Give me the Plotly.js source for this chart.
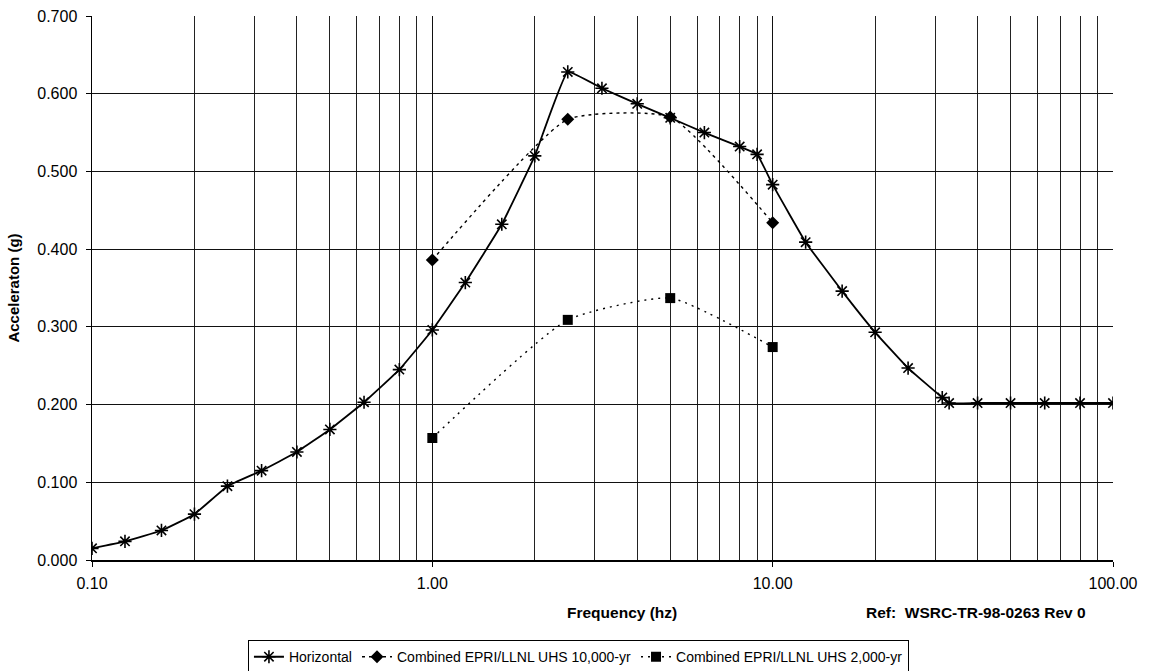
<!DOCTYPE html>
<html>
<head>
<meta charset="utf-8">
<script src="https://cdn.plot.ly/plotly-3.0.1.min.js"></script>
<style>html,body{margin:0;padding:0;background:#fff;}#chart{width:1150px;height:671px;}</style>
</head>
<body>
<div id="chart"></div>
<script>
// Horizontal spectrum
const hFreq = [0.1,0.125,0.16,0.2,0.25,0.315,0.4,0.5,0.63,0.8,1.0,1.25,1.6,2.0,2.5,3.15,4.0,5.0,6.3,8.0,9.0,10.0,12.5,16,20,25,31.5,33,40,50,63,80,100];
const hAcc  = [0.015,0.024,0.038,0.059,0.095,0.115,0.139,0.168,0.203,0.245,0.296,0.357,0.432,0.520,0.628,0.607,0.587,0.569,0.550,0.532,0.522,0.483,0.409,0.346,0.293,0.247,0.209,0.202,0.202,0.202,0.202,0.202,0.202];
// Combined EPRI/LLNL UHS
const uhsFreq = [1.0,2.5,5.0,10.0];
const uhs10k  = [0.386,0.567,0.570,0.434];
const uhs2k   = [0.157,0.309,0.337,0.274];

const seriesNames = ["Horizontal","Combined EPRI/LLNL UHS 10,000-yr","Combined EPRI/LLNL UHS 2,000-yr"];
const majorTicks = [0.1,1,10,100];
const majorTickText = ["0.10","1.00","10.00","100.00"];
const minorTicks = [0.2,0.3,0.4,0.5,0.6,0.7,0.8,0.9,2,3,4,5,6,7,8,9,20,30,40,50,60,70,80,90];
const yTicks = [0,0.1,0.2,0.3,0.4,0.5,0.6,0.7];
const yTickText = ["0.000","0.100","0.200","0.300","0.400","0.500","0.600","0.700"];

const traces = [
  {x:hFreq, y:hAcc, name:seriesNames[0], type:'scatter', mode:'lines+markers',
   line:{color:'#000', width:1.8, shape:'spline', smoothing:0.3},
   marker:{symbol:'asterisk-open', size:11, color:'#000', line:{color:'#000', width:1.6}}},
  {x:uhsFreq, y:uhs10k, name:seriesNames[1], type:'scatter', mode:'lines+markers',
   line:{color:'#000', width:1.4, dash:'3px,4px', shape:'spline', smoothing:0.5},
   marker:{symbol:'diamond', size:10, color:'#000'}},
  {x:uhsFreq, y:uhs2k, name:seriesNames[2], type:'scatter', mode:'lines+markers',
   line:{color:'#000', width:1.4, dash:'2px,5px', shape:'spline', smoothing:0.5},
   marker:{symbol:'square', size:10, color:'#000'}}
];

const layout = {
  width:1150, height:671,
  margin:{l:92, r:37, t:16, b:111},
  paper_bgcolor:'#fff', plot_bgcolor:'#fff',
  font:{family:'Arial, "Liberation Sans", sans-serif', size:16, color:'#000'},
  showlegend:true,
  legend:{orientation:'h', xref:'container', yref:'container', x:0.503, xanchor:'center', y:0.046, yanchor:'top',
          bordercolor:'#000', borderwidth:1, bgcolor:'#fff',
          font:{family:'"Liberation Sans Narrow", "Arial Narrow", Arial, sans-serif', size:14, color:'#000'},
          itemwidth:30, tracegroupgap:0},
  xaxis:{type:'log', range:[-1,2], tickmode:'array', tickvals:majorTicks, ticktext:majorTickText,
         showgrid:true, gridcolor:'#111', gridwidth:1,
         showline:true, linecolor:'#000', linewidth:1.5, mirror:false,
         ticks:'outside', ticklen:5, tickcolor:'#000', ticklabelstandoff:3,
         minor:{tickmode:'array', tickvals:minorTicks, showgrid:true, gridcolor:'#222', gridwidth:1, ticks:''},
         zeroline:false, tickfont:{size:16}},
  yaxis:{range:[0,0.7], tickmode:'array', tickvals:yTicks, ticktext:yTickText,
         showgrid:true, gridcolor:'#111', gridwidth:1,
         showline:true, linecolor:'#000', linewidth:1.5,
         ticks:'outside', ticklen:5, tickcolor:'#000', ticklabelstandoff:5,
         zeroline:false, tickfont:{size:16},
         title:{text:'<b>Acceleraton (g)</b>', font:{size:15}, standoff:14}},
  annotations:[
    {xref:'paper', yref:'paper', x:(622-92)/1021, y:-(612-560)/544, xanchor:'center', yanchor:'middle',
     text:'<b>Frequency (hz)</b>', showarrow:false, font:{size:15.5}},
    {xref:'paper', yref:'paper', x:(1088-92)/1021, y:-(612-560)/544, xanchor:'right', yanchor:'middle',
     text:'<b>Ref:  WSRC-TR-98-0263 Rev 0</b>', showarrow:false, font:{size:15.5}}
  ]
};

Plotly.newPlot('chart', traces, layout, {displayModeBar:false, staticPlot:true});
</script>
</body>
</html>
